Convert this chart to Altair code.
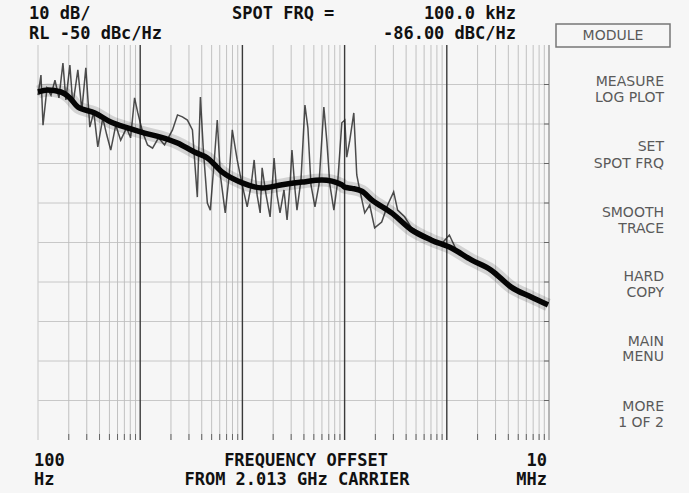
import altair as alt
import pandas as pd

# ---- data ----
# smoothed (thick) trace: offset frequency as log10(Hz), level in dBc/Hz
main_log_f = [2.000, 2.097, 2.224, 2.312, 2.390, 2.556, 2.712, 2.877, 3.043, 3.199,
              3.365, 3.530, 3.657, 3.803, 3.998, 4.193, 4.388, 4.583, 4.778, 4.973,
              5.000, 5.070, 5.168, 5.265, 5.460, 5.655, 5.850, 6.045, 6.240, 6.435,
              6.630, 6.825, 6.990]
main_db = [-61.9, -61.4, -61.9, -63.4, -65.7, -67.2, -69.5, -71.0, -72.3, -73.3,
           -74.8, -77.1, -78.6, -82.2, -84.9, -86.2, -85.4, -84.7, -84.2, -85.4,
           -86.0, -86.3, -87.0, -89.2, -92.5, -96.8, -99.4, -101.4, -104.4, -107.0,
           -111.3, -113.8, -115.8]

# raw (spiky) trace
raw_log_f = [2.000, 2.029, 2.049, 2.088, 2.127, 2.166, 2.205, 2.244, 2.273, 2.312,
             2.341, 2.390, 2.429, 2.468, 2.507, 2.546, 2.585, 2.634, 2.673, 2.712,
             2.761, 2.809, 2.867, 2.906, 2.945, 2.975, 3.023, 3.072, 3.121, 3.179,
             3.238, 3.316, 3.365, 3.413, 3.462, 3.511, 3.559, 3.589, 3.618, 3.657,
             3.686, 3.725, 3.754, 3.784, 3.832, 3.871, 3.901, 3.949, 3.998, 4.047,
             4.086, 4.115, 4.144, 4.174, 4.193, 4.232, 4.271, 4.310, 4.339, 4.368,
             4.407, 4.437, 4.466, 4.485, 4.515, 4.534, 4.573, 4.612, 4.641, 4.671,
             4.710, 4.749, 4.797, 4.827, 4.856, 4.895, 4.934, 4.973, 5.002, 5.021,
             5.051, 5.090, 5.119, 5.148, 5.197, 5.246, 5.294, 5.363, 5.421, 5.480,
             5.519, 5.587, 5.655, 5.752, 5.850, 5.947, 6.025, 6.094, 6.191, 6.289,
             6.386, 6.483, 6.581, 6.678, 6.776, 6.873, 6.990]
raw_db = [-62.7, -57.6, -70.3, -60.9, -62.7, -58.9, -63.4, -54.6, -63.9, -55.1,
          -65.2, -56.3, -66.5, -55.8, -70.8, -67.0, -75.8, -68.5, -72.8, -76.6,
          -70.3, -74.1, -71.0, -73.5, -63.4, -67.0, -72.0, -75.3, -76.1, -73.5,
          -75.3, -71.5, -67.7, -68.2, -69.0, -71.5, -88.5, -63.2, -76.6, -90.0,
          -91.8, -79.1, -69.0, -82.9, -92.5, -82.9, -71.5, -79.1, -85.4, -91.0,
          -85.4, -79.1, -88.0, -92.5, -81.1, -88.0, -93.5, -78.6, -88.0, -92.5,
          -86.7, -94.3, -85.4, -76.6, -86.7, -91.8, -84.2, -65.2, -71.0, -85.4,
          -91.0, -85.4, -65.7, -74.6, -85.4, -91.8, -84.2, -69.7, -69.0, -78.4,
          -74.1, -67.2, -82.9, -86.7, -92.5, -90.5, -96.3, -94.8, -90.5, -87.2,
          -91.8, -93.5, -96.3, -97.6, -98.9, -100.4, -98.1, -101.9, -103.7, -104.9,
          -106.5, -108.7, -110.5, -112.0, -113.5, -114.6, -115.8]

decades = [100, 1000, 10000, 100000, 1000000, 10000000]
minor_mult = [2, 3, 4, 5, 6, 7, 8, 9]
h_grid_db = [-60, -70, -80, -90, -100, -110, -120, -130, -140]

header_text = ["10 dB/", "SPOT FRQ =", "100.0 kHz", "RL -50 dBc/Hz", "-86.00 dBC/Hz"]
bottom_text = ["100", "Hz", "FREQUENCY OFFSET", "FROM  2.013 GHz CARRIER", "10", "MHz"]
menu_text = ["MEASURE", "LOG PLOT", "SET", "SPOT FRQ", "SMOOTH", "TRACE",
             "HARD", "COPY", "MAIN", "MENU", "MORE", "1 OF 2"]

# ---- tables ----
main_df = pd.DataFrame({"f": [10 ** v for v in main_log_f], "db": main_db})
raw_df = pd.DataFrame({"f": [10 ** v for v in raw_log_f], "db": raw_db})
minor_df = pd.DataFrame({"f": [d * m for d in decades[:-1] for m in minor_mult]})
major_df = pd.DataFrame({"f": decades[1:-1]})
edge_df = pd.DataFrame({"f": [decades[0], decades[-1]], "c": ["#cfcfcf", "#8a8a8a"]})
hgrid_df = pd.DataFrame({"db": h_grid_db})
rtick_df = pd.DataFrame({"db": h_grid_db})

W, H = 511, 395
X0, Y0 = 38, 45
xs = alt.Scale(type="log", domain=[100, 1e7], nice=False)
ys = alt.Scale(domain=[-150, -50], nice=False)

minor = alt.Chart(minor_df).mark_rule(color="#b4b4b4", strokeWidth=0.8).encode(
    x=alt.X("f:Q", scale=xs, axis=None))
major = alt.Chart(major_df).mark_rule(color="#3a3a3a", strokeWidth=1.4).encode(
    x=alt.X("f:Q", scale=xs, axis=None))
edges = alt.Chart(edge_df).mark_rule(strokeWidth=1.2).encode(
    x=alt.X("f:Q", scale=xs, axis=None), color=alt.Color("c:N", scale=None))
hgrid = alt.Chart(hgrid_df).mark_rule(color="#bcbcbc", strokeWidth=0.8).encode(
    y=alt.Y("db:Q", scale=ys, axis=None))
bticks = alt.Chart(minor_df).mark_rule(color="#666", strokeWidth=1).encode(
    x=alt.X("f:Q", scale=xs, axis=None),
    y=alt.value(H - 6), y2=alt.value(H))
rticks = alt.Chart(rtick_df).mark_rule(color="#666", strokeWidth=1).encode(
    y=alt.Y("db:Q", scale=ys, axis=None),
    x=alt.value(W - 5), x2=alt.value(W))

raw = alt.Chart(raw_df).mark_line(color="#222", strokeWidth=1.5, opacity=0.8).encode(
    x=alt.X("f:Q", scale=xs, axis=None), y=alt.Y("db:Q", scale=ys, axis=None))
halo = alt.Chart(main_df).mark_line(color="#000", strokeWidth=13, opacity=0.14,
                                    interpolate="monotone").encode(
    x=alt.X("f:Q", scale=xs, axis=None), y=alt.Y("db:Q", scale=ys, axis=None))
core = alt.Chart(main_df).mark_line(color="#050505", strokeWidth=5.5,
                                    interpolate="monotone").encode(
    x=alt.X("f:Q", scale=xs, axis=None), y=alt.Y("db:Q", scale=ys, axis=None))

def text_layer(labels, xs_px, ys_px, align, size, weight, color, font):
    df = pd.DataFrame({"t": labels,
                       "px": [v - X0 for v in xs_px],
                       "py": [v - Y0 for v in ys_px]})
    return alt.Chart(df).mark_text(align=align, baseline="middle", fontSize=size,
                                   fontWeight=weight, color=color, font=font).encode(
        x=alt.X("px:Q", scale=None, axis=None),
        y=alt.Y("py:Q", scale=None, axis=None),
        text="t:N")

mono = "DejaVu Sans Mono"
hdr_left = text_layer([header_text[0], header_text[1], header_text[3]],
                      [29, 232, 29], [14, 14, 34], "left", 17, "bold", "#111", mono)
hdr_right = text_layer([header_text[2], header_text[4]],
                       [516, 516], [14, 34], "right", 17, "bold", "#111", mono)
bot_left = text_layer(bottom_text[0:2], [34, 34], [461, 480], "left", 17, "bold", "#111", mono)
bot_center = text_layer(bottom_text[2:4], [306, 297], [461, 480], "center", 17, "bold", "#111", mono)
bot_right = text_layer(bottom_text[4:6], [547, 547], [461, 480], "right", 17, "bold", "#111", mono)
menu = text_layer(menu_text, [664] * 12,
                  [82, 98, 147, 164, 213, 229, 277, 293, 342, 357, 407, 423],
                  "right", 14, "normal", "#5a5a5a", "DejaVu Sans")
module = text_layer(["MODULE"], [613], [36], "center", 14, "normal", "#5a5a5a", "DejaVu Sans")
box_df = pd.DataFrame({"a": [556 - X0], "b": [670 - X0], "c": [24 - Y0], "d": [47 - Y0]})
box = alt.Chart(box_df).mark_rect(fill=None, stroke="#777", strokeWidth=1.5).encode(
    x=alt.X("a:Q", scale=None, axis=None), x2="b:Q",
    y=alt.Y("c:Q", scale=None, axis=None), y2="d:Q")

chart = alt.layer(
    minor, hgrid, major, edges, bticks, rticks, raw, halo, core,
    hdr_left, hdr_right, bot_left, bot_center, bot_right, menu, module, box
).properties(
    width=W, height=H,
    autosize=alt.AutoSizeParams(type="none"),
    padding={"left": X0, "top": Y0, "right": 689 - X0 - W, "bottom": 493 - Y0 - H},
    background="#f6f6f6",
).configure_view(stroke=None)

chart.save("out.html", embed_options={"renderer": "svg", "actions": False})
